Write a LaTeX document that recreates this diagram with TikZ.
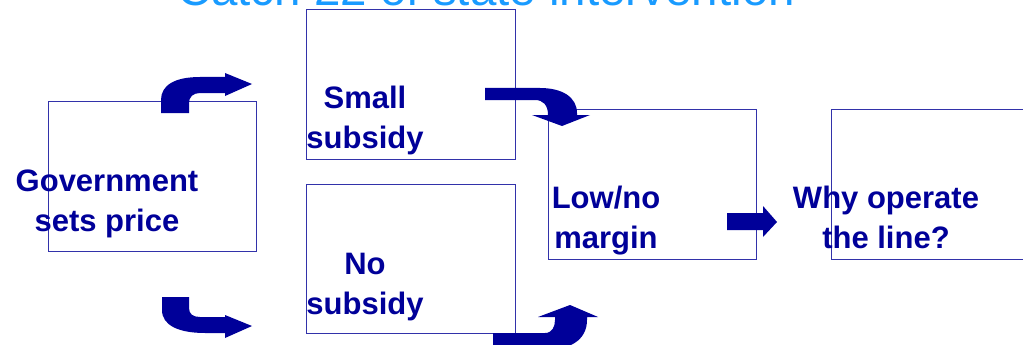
\documentclass[tikz,border=0pt]{standalone}
\usepackage{fontspec}
\setmainfont{Liberation Sans}
\usepackage{tikz}
\usetikzlibrary{positioning}
\definecolor{navy}{RGB}{0,0,153}
\definecolor{boxline}{RGB}{50,50,170}
\definecolor{titleblue}{RGB}{25,155,255}

\begin{document}
\begin{tikzpicture}[x=1pt, y=-1pt,
    box/.style={draw=boxline, line width=1pt, inner sep=0pt, minimum width=208pt, minimum height=150pt},
    lbl/.style={text=navy, align=center, font=\bfseries\fontsize{31}{40}\selectfont, inner sep=0pt},
    bent/.style={fill=navy}]
    \useasboundingbox (0,0) rectangle (1023,345);
    \node (title) [anchor=base, text=titleblue, font=\fontsize{47.5}{50}\selectfont, inner sep=0pt] at (486,6) {Catch 22 of state intervention};
    \node (gov) [box] at (152,176) {};
    \node (small) [box, minimum width=209pt, minimum height=149pt] at (410.5,84.5) {};
    \node (nosub) [box, minimum width=209pt, minimum height=149pt] at (410.5,258.5) {};
    \node (margin) [box] at (652,184) {};
    \node (why) [box] at (935,184) {};
    \node (govtxt) [lbl] at (107,203) {Government\strut\\sets price\strut};
    \node (smalltxt) [lbl] at (365,120) {Small\strut\\subsidy\strut};
    \node (nosubtxt) [lbl] at (365,286) {No\strut\\subsidy\strut};
    \node (margintxt) [lbl] at (606,220) {Low/no\strut\\margin\strut};
    \node (whytxt) [lbl] at (886,220) {Why operate\strut\\the line?\strut};
    \fill[bent] (161,113) -- (161,100) .. controls (161,85) and (175,77) .. (200,77) -- (225,77) -- (225,73) -- (252,84)
        -- (225,96) -- (225,93) -- (200,93) .. controls (193,93) and (189,97) .. (189,103) -- (189,113) -- cycle;
    \fill[bent] (162,297) -- (189,297) -- (189,308) .. controls (189,314) and (193,317) .. (200,317) -- (225,317) -- (225,315)
        -- (252,326) -- (225,338) -- (225,333) -- (205,333) .. controls (178,333) and (162,325) .. (162,310) -- cycle;
    \fill[bent] (485,88) -- (540,88) .. controls (562,88) and (577,97) .. (577,113) -- (577,115) -- (590,115) -- (562,126)
        -- (532,115) -- (548,115) .. controls (548,105) and (543,100) .. (535,100) -- (485,100) -- cycle;
    \fill[bent] (493,333) -- (545,333) .. controls (552,333) and (555,327) .. (555,320) -- (555,317) -- (538,317) -- (570,305)
        -- (598,317) -- (587,317) -- (587,320) .. controls (587,340) and (570,350) .. (545,350) -- (493,350) -- cycle;
    \fill[bent] (727,213) -- (763,213) -- (763,206) -- (777,222) -- (763,237) -- (763,230) -- (727,230) -- cycle;
\end{tikzpicture}
\end{document}
